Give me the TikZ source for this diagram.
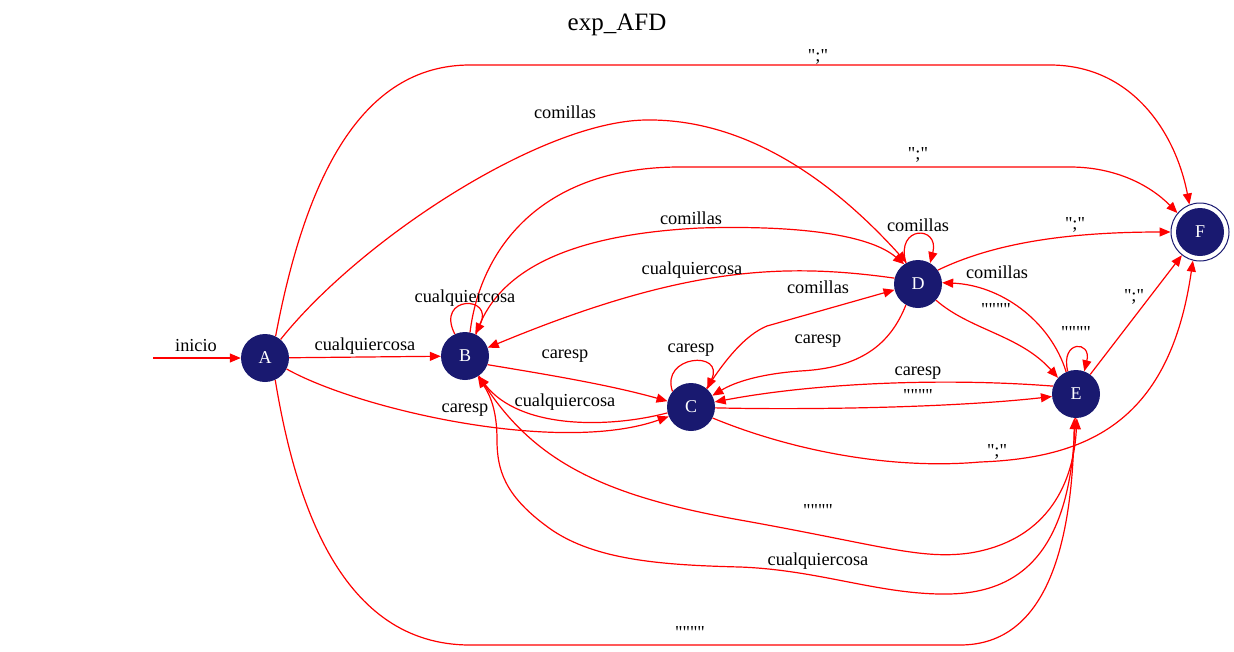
\documentclass[tikz,border=0pt]{standalone}
\usepackage{fontspec}
\setmainfont{Liberation Serif}[Ligatures=TeXOff]
\usetikzlibrary{arrows.meta}
\definecolor{navyc}{HTML}{191970}
\begin{document}
\begin{tikzpicture}[x=1pt,y=-1pt,
  st/.style={circle,fill=navyc,minimum size=48pt,inner sep=0pt,text=white,font=\fontsize{18}{20}\selectfont},
  lbl/.style={font=\fontsize{18.3}{20}\selectfont,inner sep=0pt},
  tr/.style={red,line width=1.2pt,-{Triangle[length=11pt,width=9pt]}}]
\useasboundingbox (0,0) rectangle (1234,651);
\node[font=\fontsize{25}{28}\selectfont,inner sep=0pt] (title) at (617,25) {exp\_AFD};
% states
\node[st] (A) at (265,358) {A};
\node[st] (B) at (465,356) {B};
\node[st] (C) at (691,407) {C};
\node[st] (D) at (918,284) {D};
\node[st] (E) at (1076,394) {E};
\node[circle,draw=navyc,line width=1pt,minimum size=58pt,inner sep=0pt] (F) at (1200,232) {};
\node[st] (Fi) at (F) {F};
\coordinate (s) at (153,358);
% edges
\draw[tr] (s) -- (A);
\draw[tr] (A) -- (B);
\draw[tr] (A.-27) .. controls (360,410) and (560,455) .. (C.-157);
\draw[tr] (A.50) .. controls (360,240) and (540,122) .. (645,120) .. controls (760,118) and (850,200) .. (D.118);
\draw[tr] (A.64) .. controls (305,180) and (360,65) .. (470,65) -- (1050,65) .. controls (1130,65) and (1175,130) .. (F.111);
\draw[tr] (A.-65) .. controls (295,500) and (340,645) .. (470,645) -- (960,645) .. controls (1040,645) and (1072,560) .. (E.-94);
\draw[tr] (B.115) .. controls (435,295) and (495,295) .. (B.65);
\draw[tr] (B.-21) .. controls (550,375) and (610,385) .. (C.166);
\draw[tr] (C.194) .. controls (610,428) and (520,430) .. (B.-56);
\draw[tr] (B.63) .. controls (495,275) and (560,235) .. (700,228) .. controls (800,225) and (870,235) .. (D.125);
\draw[tr] (B.78) .. controls (480,250) and (540,167) .. (680,167) -- (1070,167) .. controls (1115,167) and (1150,185) .. (F.140);
\draw[tr] (D.120) .. controls (895,225) and (940,225) .. (D.60);
\draw[tr] (D.35) .. controls (990,245) and (1060,232) .. (F.180);
\draw[tr] (D.166) .. controls (780,262) and (680,268) .. (B.20);
\draw[tr] (C.50) .. controls (725,360) and (745,335) .. (767,326) -- (D.194);
\draw[tr] (D.240) .. controls (890,345) and (860,368) .. (800,371) .. controls (760,374) and (735,382) .. (C.28);
\draw[tr] (D.-42) .. controls (970,330) and (1020,335) .. (E.138);
\draw[tr] (E.114) .. controls (1050,320) and (1000,285) .. (D.3);
\draw[tr] (E.110) .. controls (1060,340) and (1092,340) .. (E.70);
\draw[tr] (E.54) -- (F.232);
\draw[tr] (E.161) .. controls (950,378) and (820,382) .. (C.12);
\draw[tr] (C.-2) .. controls (800,410) and (950,408) .. (E.-174);
\draw[tr] (C.-27) .. controls (790,450) and (890,470) .. (980,462) .. controls (1090,458) and (1170,420) .. (F.256);
\draw[tr] (C.140) .. controls (660,355) and (725,350) .. (C.48);
\draw[tr] (B.-55) .. controls (530,460) and (600,495) .. (740,520) .. controls (880,545) and (920,560) .. (970,553) .. controls (1050,540) and (1074,480) .. (E.-88);
\draw[tr] (E.-92) .. controls (1072,540) and (1030,593) .. (948,594) .. controls (880,595) and (820,570) .. (740,567) .. controls (660,565) and (590,560) .. (545,525) .. controls (505,495) and (497,470) .. (497,440) .. controls (497,410) and (490,395) .. (B.-58);
% labels
\node[lbl] (l0) at (196,346) {inicio};
\node[lbl] (l1) at (365,346) {cualquiercosa};
\node[lbl] (l2) at (465,410) {caresp};
\node[lbl] (l3) at (565,112) {comillas};
\node[lbl] (l4) at (818,57) {";"};
\node[lbl] (l5) at (690,632) {""""};
\node[lbl] (l6) at (465,298) {cualquiercosa};
\node[lbl] (l7) at (565,356) {caresp};
\node[lbl] (l8) at (565,402) {cualquiercosa};
\node[lbl] (l9) at (691,218) {comillas};
\node[lbl] (l10) at (918,155) {";"};
\node[lbl] (l11) at (918,225) {comillas};
\node[lbl] (l12) at (1075,225) {";"};
\node[lbl] (l13) at (692,270) {cualquiercosa};
\node[lbl] (l14) at (818,287) {comillas};
\node[lbl] (l15) at (818,341) {caresp};
\node[lbl] (l16) at (996,310) {""""};
\node[lbl] (l17) at (997,272) {comillas};
\node[lbl] (l18) at (1076,333) {""""};
\node[lbl] (l19) at (1134,297) {";"};
\node[lbl] (l20) at (918,373) {caresp};
\node[lbl] (l21) at (918,396) {""""};
\node[lbl] (l22) at (997,452) {";"};
\node[lbl] (l23) at (818,511) {""""};
\node[lbl] (l24) at (818,561) {cualquiercosa};
\node[lbl] (l25) at (691,350) {caresp};
\end{tikzpicture}
\end{document}
